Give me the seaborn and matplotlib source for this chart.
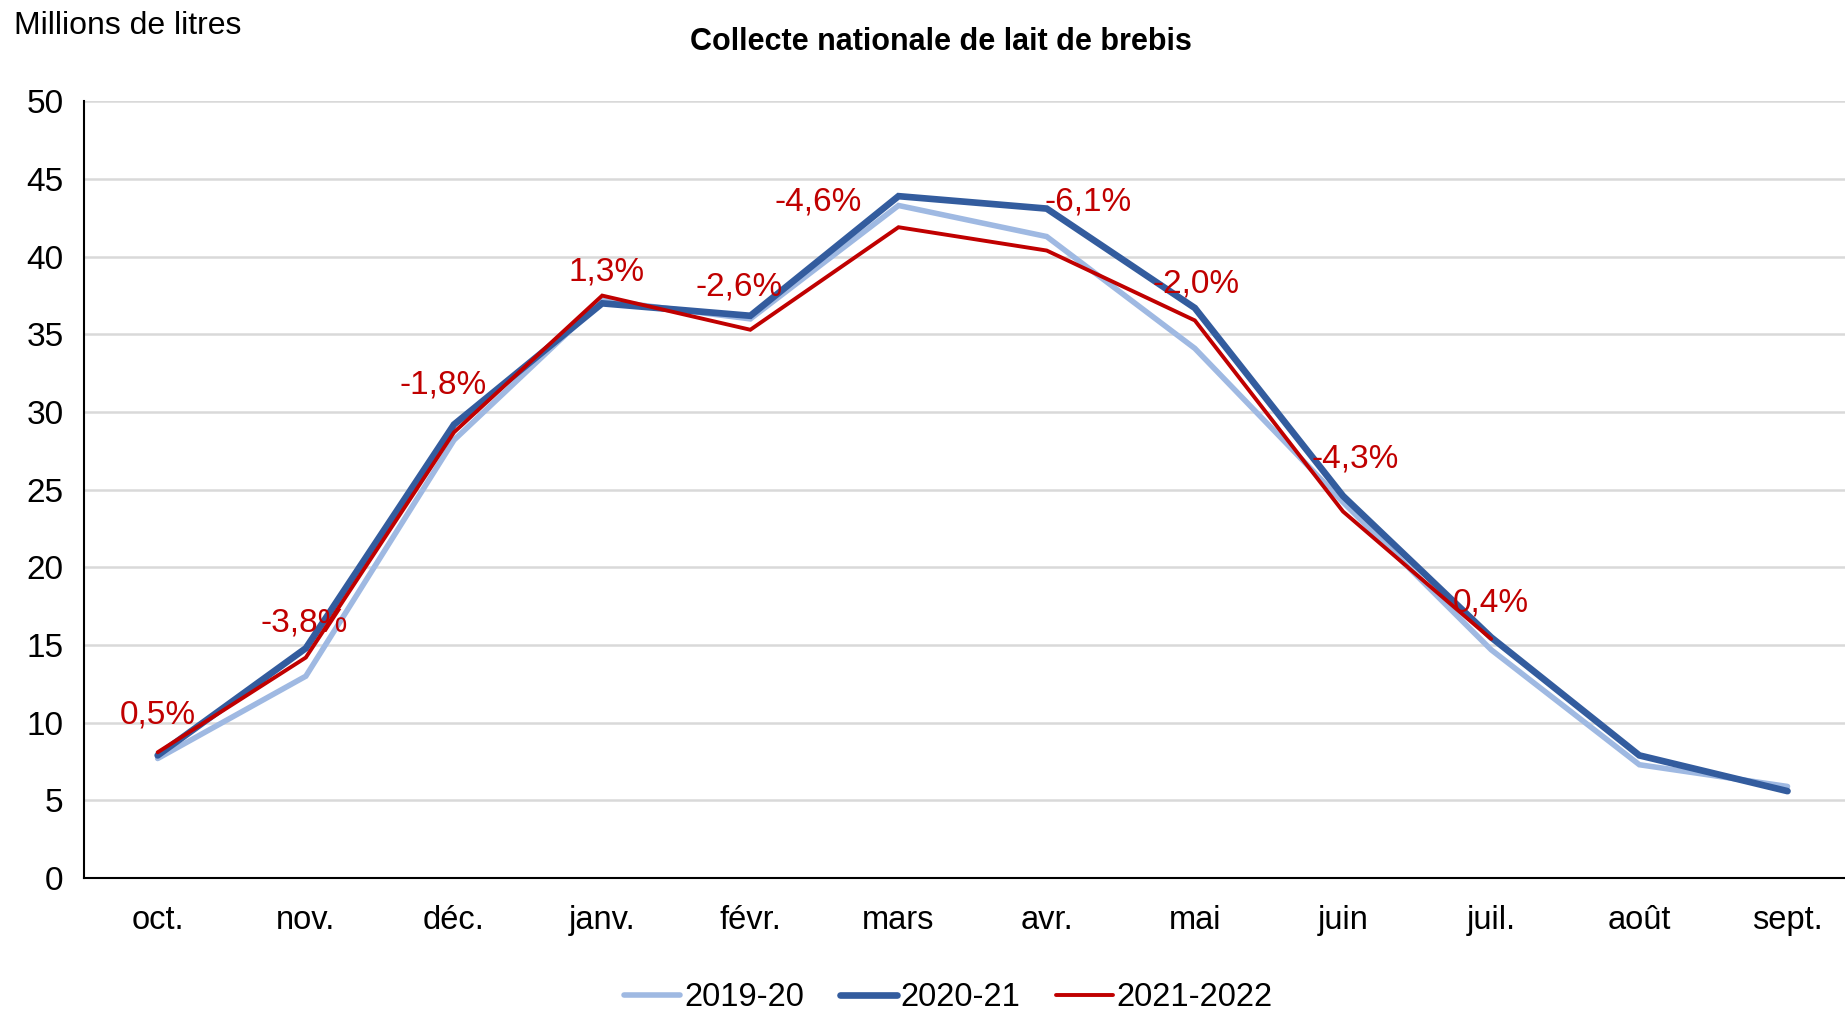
import numpy as np
import pandas as pd
import matplotlib
matplotlib.use("Agg")
import matplotlib.pyplot as plt
import seaborn as sns

# ===============================
# Data (millions de litres)
# ===============================
mois = ["oct.", "nov.", "déc.", "janv.", "févr.", "mars", "avr.", "mai", "juin", "juil.", "août", "sept."]
c_2019_20 = [7.7, 13.0, 28.2, 37.2, 36.0, 43.3, 41.3, 34.1, 24.2, 14.7, 7.3, 5.9]
c_2020_21 = [7.9, 14.8, 29.2, 37.0, 36.2, 43.9, 43.1, 36.7, 24.6, 15.5, 7.9, 5.6]
c_2021_22 = [8.1, 14.2, 28.7, 37.5, 35.3, 41.9, 40.4, 35.9, 23.6, 15.4, np.nan, np.nan]
variations = ["0,5%", "-3,8%", "-1,8%", "1,3%", "-2,6%", "-4,6%", "-6,1%", "-2,0%", "-4,3%", "0,4%"]

# label offsets in points (layout only)
label_offsets = [(0, 27), (-1, 25), (-8, 34), (3, 17), (-8, 31), (-58, 18),
                 (30, 35), (1, 26), (9, 38), (0, 26)]

df = pd.DataFrame({"mois": mois, "pos": range(len(mois)),
                   "2019-20": c_2019_20, "2020-21": c_2020_21, "2021-2022": c_2021_22})

# ===============================
# Style
# ===============================
sns.set_style("white")
plt.rcParams["font.family"] = ["Liberation Sans", "DejaVu Sans"]
plt.rcParams["text.color"] = "black"
plt.rcParams["xtick.color"] = "black"
plt.rcParams["ytick.color"] = "black"

fig = plt.figure(figsize=(18.45, 10.14), dpi=100)
# the plot area runs a little past the right edge of the picture
ax = fig.add_axes([0.0453, 0.134, 0.9637, 0.766])

series = [("2019-20", "#9FB9E2", 4.0),
          ("2020-21", "#335C9E", 4.8),
          ("2021-2022", "#C00000", 2.8)]
for name, col, lw in series:
    sns.lineplot(data=df, x="pos", y=name, ax=ax, color=col, linewidth=lw,
                 label=name, solid_joinstyle="miter")

# percent labels on the 2021-2022 line
for i, txt in enumerate(variations):
    ax.annotate(txt, xy=(i, c_2021_22[i]), xytext=label_offsets[i],
                textcoords="offset points", ha="center", va="center",
                color="#C00000", fontsize=24)

ax.set_xlim(-0.5, 11.5)
ax.set_ylim(0, 50)
ax.set_yticks(range(0, 51, 5))
ax.set_xticks(np.arange(-0.5, 12, 1))
ax.set_xticklabels([])
ax.set_xticks(range(len(mois)), minor=True)
ax.set_xticklabels(mois, minor=True)
ax.tick_params(axis="x", which="major", direction="out", length=6.5, width=1.5)
ax.tick_params(axis="x", which="minor", length=0, pad=19, labelsize=23.5)
ax.tick_params(axis="y", direction="out", length=5.5, width=1.5, labelsize=24, pad=9)
ax.set_xlabel("")
ax.set_ylabel("")

ax.yaxis.grid(True, color="#D9D9D9", linewidth=1.8)
ax.set_axisbelow(True)
for s in ["top", "right"]:
    ax.spines[s].set_visible(False)
for s in ["left", "bottom"]:
    ax.spines[s].set_color("black")
    ax.spines[s].set_linewidth(1.5)

fig.text(0.0076, 0.974, "Millions de litres", fontsize=23, va="center", ha="left")
fig.text(0.51, 0.959, "Collecte nationale de lait de brebis", fontsize=22,
         fontweight="bold", va="center", ha="center")

ax.get_legend().remove()
handles, labels = ax.get_legend_handles_labels()
fig.legend(handles, labels, loc="center", bbox_to_anchor=(0.514, 0.016), ncol=3,
           frameon=False, fontsize=23.5, handlelength=1.73, handletextpad=0.12,
           columnspacing=1.1, borderpad=0.1)

fig.savefig("out.png", dpi=100)
